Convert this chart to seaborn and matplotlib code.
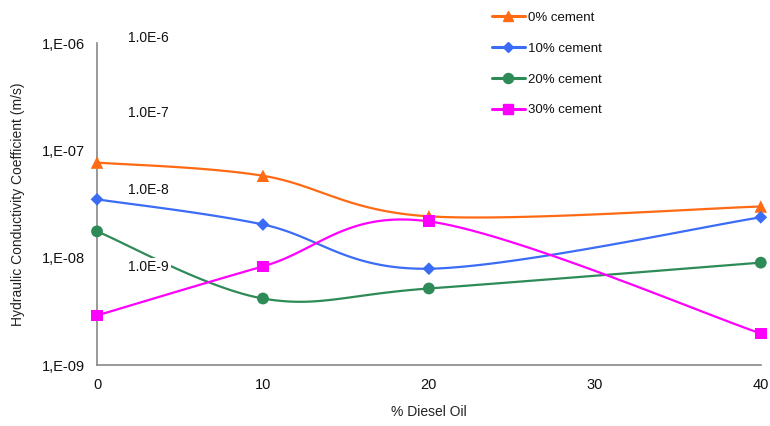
import numpy as np
import pandas as pd
import matplotlib
matplotlib.use('Agg')
import matplotlib.pyplot as plt
import seaborn as sns
from matplotlib.lines import Line2D

# values
diesel = [0, 10, 20, 40]
cement_0 = [7.7e-8, 5.8e-8, 2.43e-8, 3.0e-8]
cement_10 = [3.5e-8, 2.04e-8, 7.9e-9, 2.38e-8]
cement_20 = [1.76e-8, 4.17e-9, 5.17e-9, 9.0e-9]
cement_30 = [2.9e-9, 8.3e-9, 2.18e-8, 1.97e-9]
series_names = ['0% cement', '10% cement', '20% cement', '30% cement']
y_ticks = [1e-9, 1e-8, 1e-7, 1e-6]
y_tick_labels = ['1,E-09', '1,E-08', '1,E-07', '1,E-06']
stray_labels = ['1.0E-6', '1.0E-7', '1.0E-8', '1.0E-9']

colors = ['#FF6A13', '#3B6CF6', '#2E8B57', '#FF00FF']
markers = ['^', 'D', 'o', 's']
msizes = [9, 6.5, 8.5, 8.5]

rows = []
for name, vals in zip(series_names, [cement_0, cement_10, cement_20, cement_30]):
    for x, v in zip(diesel, vals):
        rows.append({'Diesel': x, 'K': v, 'Series': name})
df = pd.DataFrame(rows)


def smooth(xs, ys, n=40):
    # Catmull-Rom through the points, in x / log10(y) space (like spreadsheet "smoothed line")
    sx = np.asarray(xs, float) / 10 * 166
    sy = np.log10(ys) * 107
    P = np.column_stack([sx, sy])
    P = np.vstack([P[0], P, P[-1]])
    out = []
    for i in range(1, len(P) - 2):
        p0, p1, p2, p3 = P[i - 1], P[i], P[i + 1], P[i + 2]
        c1 = p1 + (p2 - p0) / 6
        c2 = p2 - (p3 - p1) / 6
        t = np.linspace(0, 1, n)[:, None]
        seg = (1 - t) ** 3 * p1 + 3 * (1 - t) ** 2 * t * c1 + 3 * (1 - t) * t ** 2 * c2 + t ** 3 * p2
        out.append(seg)
    out = np.vstack(out)
    return out[:, 0] / 166 * 10, 10 ** (out[:, 1] / 107)


sns.set_style('white')
plt.rcParams['font.family'] = ['Liberation Sans', 'DejaVu Sans']

fig = plt.figure(figsize=(7.7, 4.26), dpi=100)
ax = fig.add_axes([0.126, 0.143, 0.862, 0.756])

handles = []
for name, c, m, ms in zip(series_names, colors, markers, msizes):
    sub = df[df['Series'] == name]
    cx, cy = smooth(sub['Diesel'], sub['K'])
    ax.plot(cx, cy, color=c, lw=1.6, zorder=2)
    sns.scatterplot(data=sub, x='Diesel', y='K', color=c, marker=m, s=ms ** 2,
                    edgecolor='none', ax=ax, zorder=3, clip_on=False, legend=False)
    handles.append(Line2D([0], [0], color=c, lw=2.2, marker=m, markersize=ms * 0.85))

ax.set_yscale('log')
ax.set_ylim(1e-9, 1e-6)
ax.set_xlim(0, 40)
ax.set_yticks(y_ticks)
ax.set_yticklabels(y_tick_labels)
ax.yaxis.set_minor_locator(matplotlib.ticker.NullLocator())
ax.set_xticks([0, 10, 20, 30, 40])

for side in ['top', 'right']:
    ax.spines[side].set_visible(False)
for side in ['left', 'bottom']:
    ax.spines[side].set_color('#888888')
    ax.spines[side].set_linewidth(1.2)
ax.tick_params(axis='both', direction='out', length=5, width=1, color='#888888',
               labelsize=10.5, labelcolor='#111111', pad=4)
ax.tick_params(axis='x', pad=4)

ax.set_xlabel('% Diesel Oil', fontsize=10, color='#222222', labelpad=10)
ax.set_ylabel('Hydraulic Conductivity Coefficient (m/s)', fontsize=10, color='#222222', labelpad=12)

# stray data-label texts left in the original
label_pos = [38, 113, 190, 267]
for txt, py in zip(stray_labels, label_pos):
    ax.annotate(txt, xy=(128 / 770, 1 - py / 426), xycoords='figure fraction',
                fontsize=10, color='#111111', va='center', ha='left',
                bbox=dict(facecolor='white', edgecolor='none', pad=1.5) if txt == '1.0E-9' else None,
                zorder=5)

leg = fig.legend(handles=handles, labels=series_names, loc='upper left',
                 bbox_to_anchor=(480 / 770, 1.0), frameon=False, fontsize=9.5,
                 handlelength=2.5, labelspacing=1.4, handletextpad=0.25)
for t in leg.get_texts():
    t.set_color('#111111')

fig.savefig('out.png', dpi=100)
